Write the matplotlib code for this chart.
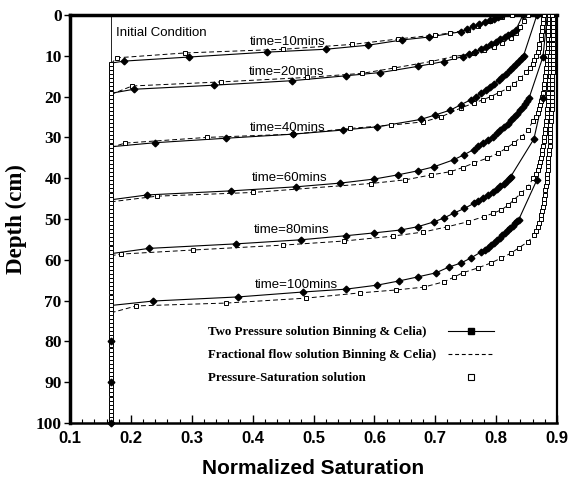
import numpy as np
import matplotlib
matplotlib.use("Agg")
import matplotlib.pyplot as plt
from matplotlib.lines import Line2D

# ---------------- data ----------------
S_INIT = 0.167  # initial normalized saturation

times = ["time=10mins", "time=20mins", "time=40mins",
         "time=60mins", "time=80mins", "time=100mins"]

# Two-pressure solution (Binning & Celia): saturation / depth (cm)
tp10_s = [0.167, 0.189, 0.296, 0.424, 0.52, 0.59, 0.646, 0.69, 0.742, 0.752,
          0.762, 0.772, 0.782, 0.79, 0.796, 0.803, 0.81]
tp10_d = [11.8, 11.3, 10.3, 9.1, 8.4, 7.4, 6.1, 5.4, 4.1, 3.5,
          2.8, 2.3, 1.8, 1.3, 0.9, 0.5, 0.1]

tp20_s = [0.167, 0.205, 0.337, 0.465, 0.553, 0.61, 0.671, 0.714, 0.745, 0.755,
          0.765, 0.775, 0.784, 0.792, 0.80, 0.807, 0.814, 0.82, 0.826, 0.832, 0.844]
tp20_d = [19.2, 18.2, 17.2, 16.1, 14.9, 14.1, 12.6, 11.4, 10.2, 9.6,
          9.0, 8.4, 7.8, 7.2, 6.6, 6.0, 5.4, 4.8, 4.3, 3.8, 0.0]

tp40_s = [0.167, 0.24, 0.357, 0.467, 0.548, 0.605, 0.676, 0.70, 0.725, 0.742,
          0.758, 0.767, 0.775, 0.783, 0.79, 0.797, 0.804, 0.81, 0.816, 0.822,
          0.828, 0.833, 0.838, 0.842, 0.845, 0.867]
tp40_d = [32.3, 31.3, 30.2, 29.2, 28.2, 27.4, 25.6, 24.5, 23.3, 22.0,
          20.8, 20.0, 19.2, 18.4, 17.6, 16.8, 16.0, 15.2, 14.4, 13.6,
          12.8, 12.0, 11.2, 10.5, 10.0, 0.0]

tp60_s = [0.167, 0.227, 0.365, 0.472, 0.544, 0.60, 0.638, 0.671, 0.698, 0.73,
          0.748, 0.763, 0.771, 0.779, 0.787, 0.795, 0.801, 0.807, 0.813, 0.819,
          0.825, 0.83, 0.835, 0.84, 0.844, 0.848, 0.851, 0.854, 0.877, 0.884]
tp60_d = [45.3, 44.1, 43.1, 42.1, 41.2, 40.2, 39.2, 38.2, 37.2, 35.5,
          34.2, 33.0, 32.2, 31.4, 30.6, 29.8, 29.0, 28.2, 27.4, 26.6,
          25.8, 25.0, 24.2, 23.4, 22.6, 21.8, 21.0, 20.4, 10.2, 0.0]

tp80_s = [0.167, 0.23, 0.372, 0.479, 0.553, 0.60, 0.643, 0.671, 0.698, 0.715,
          0.73, 0.748, 0.763, 0.771, 0.779, 0.787, 0.795, 0.801, 0.807, 0.813,
          0.818, 0.822, 0.824, 0.862, 0.877, 0.886, 0.889]
tp80_d = [58.5, 57.2, 56.1, 55.1, 54.1, 53.4, 52.7, 51.9, 50.7, 49.7,
          48.6, 47.4, 46.2, 45.5, 44.8, 44.1, 43.4, 42.7, 42.0, 41.3,
          40.6, 40.0, 39.6, 30.4, 20.4, 10.0, 0.0]

tp100_s = [0.167, 0.237, 0.376, 0.482, 0.553, 0.605, 0.64, 0.671, 0.701, 0.722,
           0.742, 0.758, 0.775, 0.781, 0.786, 0.791, 0.796, 0.801, 0.806, 0.81,
           0.815, 0.819, 0.823, 0.827, 0.831, 0.834, 0.837, 0.867, 0.881, 0.887,
           0.890, 0.891]
tp100_d = [71.2, 70.1, 69.1, 67.9, 67.2, 66.2, 65.2, 64.2, 63.2, 61.8,
           60.8, 59.6, 58.1, 57.5, 57.0, 56.4, 55.8, 55.2, 54.6, 54.0,
           53.4, 52.8, 52.2, 51.6, 51.0, 50.5, 50.2, 40.4, 30.0, 20.0,
           10.0, 0.0]

# diamonds of the two-pressure solution lying on the initial-condition column
tp_col_d = [80, 90, 100]

# Pressure-saturation solution (squares) / fractional-flow solution (dashed)
ps10_s = [0.167, 0.177, 0.289, 0.45, 0.564, 0.638, 0.70, 0.725, 0.753, 0.77,
          0.79, 0.81, 0.826]
ps10_d = [12.0, 10.5, 9.3, 8.4, 7.2, 5.9, 4.9, 4.4, 3.6, 2.6, 1.5, 0.6, 0.0]

ps20_s = [0.167, 0.202, 0.348, 0.49, 0.58, 0.632, 0.693, 0.73, 0.763, 0.78,
          0.796, 0.81, 0.824, 0.833, 0.84, 0.846, 0.852]
ps20_d = [19.5, 17.4, 16.4, 15.3, 14.3, 13.0, 11.4, 10.2, 9.4, 8.6,
          7.8, 6.8, 5.7, 4.3, 2.9, 1.5, 0.0]

ps40_s = [0.167, 0.19, 0.325, 0.467, 0.56, 0.627, 0.68, 0.709, 0.742, 0.763,
          0.778, 0.791, 0.805, 0.819, 0.83, 0.84, 0.849, 0.855, 0.860, 0.863,
          0.866, 0.868, 0.870, 0.871, 0.873, 0.874, 0.875, 0.876, 0.877, 0.877,
          0.878]
ps40_d = [32.5, 31.4, 30.0, 29.2, 27.8, 27.0, 26.2, 25.0, 22.8, 21.6,
          20.8, 20.0, 19.0, 18.0, 16.8, 15.5, 14.0, 13.0, 12.0, 11.0,
          10.0, 9.0, 8.0, 7.0, 6.0, 5.0, 4.0, 3.0, 2.0, 1.0,
          0.0]

ps60_s = [0.167, 0.243, 0.40, 0.594, 0.651, 0.693, 0.725, 0.745, 0.763, 0.785,
          0.803, 0.817, 0.829, 0.842, 0.852, 0.86, 0.865, 0.868, 0.870, 0.872,
          0.874, 0.876, 0.877, 0.878, 0.879, 0.880, 0.881, 0.882, 0.882, 0.883,
          0.883, 0.884, 0.884, 0.885, 0.885, 0.885, 0.886, 0.886, 0.886, 0.887,
          0.887, 0.887]
ps60_d = [45.8, 44.4, 43.5, 41.3, 40.4, 39.2, 38.4, 37.4, 36.3, 35.1,
          33.9, 32.6, 31.4, 29.8, 28.2, 26.1, 25.0, 24.0, 23.0, 22.0,
          21.0, 20.0, 19.0, 18.0, 17.0, 16.0, 15.0, 14.0, 13.0, 12.0,
          11.0, 10.0, 9.0, 8.0, 7.0, 6.0, 5.0, 4.0, 3.0, 2.0,
          1.0, 0.0]

ps80_s = [0.167, 0.184, 0.302, 0.45, 0.55, 0.63, 0.68, 0.72, 0.753, 0.78,
          0.795, 0.808, 0.82, 0.829, 0.841, 0.852, 0.861, 0.865, 0.868, 0.870,
          0.872, 0.873, 0.875, 0.876, 0.877, 0.878, 0.879, 0.880, 0.881, 0.882,
          0.882, 0.883, 0.884, 0.884, 0.885, 0.885, 0.886, 0.886, 0.887, 0.887,
          0.887, 0.888, 0.888, 0.888, 0.889, 0.889, 0.889, 0.890, 0.890, 0.890,
          0.890, 0.891, 0.891, 0.891, 0.891, 0.891, 0.891]
ps80_d = [59.0, 58.6, 57.6, 56.4, 55.4, 54.2, 53.2, 51.9, 50.7, 49.4,
          48.6, 47.8, 46.6, 45.3, 43.7, 42.1, 40.0, 39.0, 38.0, 37.0,
          36.0, 35.0, 34.0, 33.0, 32.0, 31.0, 30.0, 29.0, 28.0, 27.0,
          26.0, 25.0, 24.0, 23.0, 22.0, 21.0, 20.0, 19.0, 18.0, 17.0,
          16.0, 15.0, 14.0, 13.0, 12.0, 11.0, 10.0, 9.0, 8.0, 7.0,
          6.0, 5.0, 4.0, 3.0, 2.0, 1.0, 0.0]

ps100_s = [0.167, 0.209, 0.357, 0.487, 0.577, 0.635, 0.681, 0.714, 0.73, 0.745,
           0.77, 0.791, 0.808, 0.824, 0.838, 0.852, 0.862, 0.866, 0.869, 0.871,
           0.873, 0.874, 0.876, 0.877, 0.878, 0.879, 0.880, 0.881, 0.882, 0.883,
           0.883, 0.884, 0.885, 0.885, 0.886, 0.886, 0.887, 0.887, 0.888, 0.888,
           0.888, 0.889, 0.889, 0.889, 0.890, 0.890, 0.890, 0.891, 0.891, 0.891,
           0.891, 0.892, 0.892, 0.892, 0.892, 0.892, 0.893, 0.893, 0.893, 0.893,
           0.893, 0.893, 0.894, 0.894, 0.894, 0.894, 0.894, 0.894, 0.894, 0.894]
ps100_d = [73.0, 71.3, 70.6, 69.4, 68.1, 67.4, 66.7, 65.4, 64.3, 63.2,
           62.0, 60.8, 59.6, 58.4, 57.0, 55.6, 54.0, 53.0, 52.0, 51.0,
           50.0, 49.0, 48.0, 47.0, 46.0, 45.0, 44.0, 43.0, 42.0, 41.0,
           40.0, 39.0, 38.0, 37.0, 36.0, 35.0, 34.0, 33.0, 32.0, 31.0,
           30.0, 29.0, 28.0, 27.0, 26.0, 25.0, 24.0, 23.0, 22.0, 21.0,
           20.0, 19.0, 18.0, 17.0, 16.0, 15.0, 14.0, 13.0, 12.0, 11.0,
           10.0, 9.0, 8.0, 7.0, 6.0, 5.0, 4.0, 3.0, 2.0, 1.0]

# numerical grid nodes (cm) below the shallowest front, at initial saturation
init_nodes = np.arange(12, 101, 1.0)

# label anchor positions (saturation, depth) for the time annotations
label_s = [0.396, 0.394, 0.396, 0.398, 0.402, 0.404]
label_d = [6.6, 14.0, 27.7, 40.0, 52.7, 66.2]

legend_labels = ["Two Pressure solution Binning & Celia)",
                 "Fractional flow solution Binning & Celia)",
                 "Pressure-Saturation solution"]

tp_curves = [(tp10_s, tp10_d, 0), (tp20_s, tp20_d, 0), (tp40_s, tp40_d, 0),
             (tp60_s, tp60_d, 1), (tp80_s, tp80_d, 2), (tp100_s, tp100_d, 4)]
ps_curves = [(ps10_s, ps10_d), (ps20_s, ps20_d), (ps40_s, ps40_d),
             (ps60_s, ps60_d), (ps80_s, ps80_d), (ps100_s, ps100_d)]

# ---------------- figure ----------------
fig = plt.figure(figsize=(5.70, 4.79), dpi=100)
ax = fig.add_axes([0.1228, 0.1169, 0.8544, 0.8518])

ax.axvline(S_INIT, color="black", lw=0.6, zorder=1)

# fractional flow (dashed) + pressure-saturation (open squares)
for s, d in ps_curves:
    ax.plot(s, d, color="black", lw=0.7, ls=(0, (5, 3)), zorder=2)
    ax.plot(s[1:], d[1:], ls="none", marker="s", ms=3.0, mfc="white",
            mec="black", mew=0.7, zorder=4)
ax.plot(np.full(init_nodes.shape, S_INIT), init_nodes, ls="none", marker="s",
        ms=3.0, mfc="white", mec="black", mew=0.7, zorder=4)

# two pressure (solid + filled diamonds)
for s, d, nskip in tp_curves:
    ax.plot(s, d, color="black", lw=0.8, zorder=3)
    end = len(s) - nskip
    ax.plot(s[1:end], d[1:end], ls="none", marker="D", ms=3.4,
            mfc="black", mec="black", zorder=5)
ax.plot([S_INIT] * len(tp_col_d), tp_col_d, ls="none", marker="D", ms=3.4,
        mfc="black", mec="black", zorder=5, clip_on=False)

# annotations
for lab, xs, yd in zip(times, label_s, label_d):
    ax.text(xs, yd, lab, fontsize=9.5, family="Liberation Sans",
            ha="left", va="center", zorder=6)
ax.text(S_INIT + 0.008, 4.4, "Initial Condition", fontsize=9.5,
        family="Liberation Sans", ha="left", va="center")

# legend: text column + symbol column
leg_font = dict(family="Liberation Serif", weight="bold", size=9.3)
for i, lab in enumerate(legend_labels):
    ax.text(0.284, 0.223 - i * 0.0565, lab, transform=ax.transAxes,
            ha="left", va="center", fontdict=leg_font)
handles = [Line2D([], [], color="black", lw=0.8, marker="s", ms=4.5,
                  mfc="black"),
           Line2D([], [], color="black", lw=0.8, ls=(0, (3.5, 2.5))),
           Line2D([], [], ls="none", marker="s", ms=4.5, mfc="white",
                  mec="black", mew=0.8)]
leg = ax.legend(handles, ["", "", ""], loc="center",
                bbox_to_anchor=(0.824, 0.167), frameon=False,
                handlelength=2.9, handletextpad=0.0, borderpad=0.0,
                labelspacing=0.5, fontsize=11.5)

# axes
ax.set_xlim(0.1, 0.9)
ax.set_ylim(100, 0)
ax.set_xticks(np.arange(0.1, 0.91, 0.1))
ax.set_xticks(np.arange(0.1, 0.9, 0.02), minor=True)
ax.set_yticks(np.arange(0, 101, 10))
ax.set_xticklabels(["%.1f" % v for v in np.arange(0.1, 0.91, 0.1)],
                   family="Liberation Sans", weight="bold", fontsize=12)
ax.set_yticklabels([str(v) for v in range(0, 101, 10)],
                   family="Liberation Serif", weight="bold", fontsize=12.5)
ax.tick_params(axis="x", which="major", direction="in", length=6, width=1,
               pad=6)
ax.tick_params(axis="x", which="minor", direction="in", length=3, width=0.8)
ax.tick_params(axis="y", which="major", direction="out", length=4, width=1,
               pad=2)
for side, w in (("left", 2.5), ("top", 2.5), ("right", 1.6), ("bottom", 1.8)):
    ax.spines[side].set_linewidth(w)

ax.set_xlabel("Normalized Saturation", family="Liberation Sans",
              weight="bold", fontsize=15, labelpad=9)
ax.set_ylabel("Depth (cm)", family="Liberation Serif", weight="bold",
              fontsize=16.5, labelpad=6)

fig.savefig("out.png", dpi=100)
